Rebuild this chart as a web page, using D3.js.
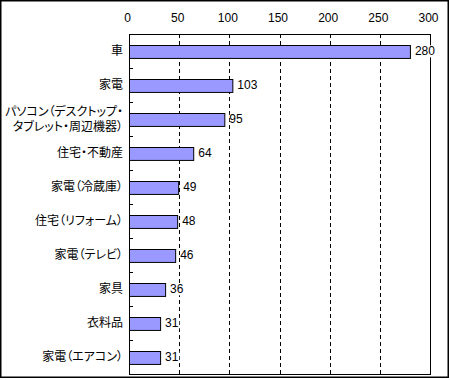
<!DOCTYPE html>
<html><head><meta charset="utf-8">
<script src="https://cdn.jsdelivr.net/npm/d3@7"></script>
<style>
html,body{margin:0;padding:0;background:#fff;}
text{font-family:"Noto Sans CJK JP","Noto Sans",sans-serif;font-size:12px;fill:#000;font-feature-settings:"palt";}
.num{font-family:"Liberation Sans",Arial,sans-serif;font-size:12px;}
</style></head>
<body>
<svg id="c" width="450" height="380"></svg>
<script>
const categories = ["車","家電","パソコン（デスクトップ・\nタブレット・周辺機器）","住宅・不動産","家電（冷蔵庫）","住宅（リフォーム）","家電（テレビ）","家具","衣料品","家電（エアコン）"];
const values = [280,103,95,64,49,48,46,36,31,31];
const xTicks = [0,50,100,150,200,250,300];

const svg = d3.select("#c");
const L=129, R=430, T=34, B=374;
const x = d3.scaleLinear().domain([0,300]).range([L,R]);
const y = d3.scaleBand().domain(categories).range([T,B]).paddingInner(0.62).paddingOuter(0.31);

// outer border
svg.append("rect").attr("x",0.75).attr("y",0.75).attr("width",447.5).attr("height",376.5)
  .attr("fill","none").attr("stroke","#000").attr("stroke-width",1.5);

// gridlines
svg.append("g").selectAll("line").data(xTicks.filter(t=>t>0&&t<300)).join("line")
  .attr("x1",d=>Math.round(x(d))+0.5).attr("x2",d=>Math.round(x(d))+0.5)
  .attr("y1",T).attr("y2",B).attr("stroke","#000").attr("stroke-dasharray","4,3");

// frame
svg.append("rect").attr("x",L+0.5).attr("y",T+0.5).attr("width",R-L).attr("height",B-T)
  .attr("fill","none").attr("stroke","#000");

// top axis labels
const ax = d3.axisTop(x).tickValues(xTicks).tickSize(0).tickPadding(0);
const gAx = svg.append("g").attr("transform",`translate(0,${T-12})`).call(ax);
gAx.select(".domain").remove();
gAx.attr("font-family",null).attr("font-size",null);
gAx.selectAll("text").attr("class","num").attr("dx",-2);

// y ticks between categories
const step = y.step();
const bounds = d3.range(1,categories.length).map(i=>T+i*step);
svg.append("g").selectAll("line").data(bounds).join("line")
  .attr("x1",L).attr("x2",L+4).attr("y1",d=>Math.round(d)+0.5).attr("y2",d=>Math.round(d)+0.5)
  .attr("stroke","#000");

// bars
svg.append("g").selectAll("rect").data(values).join("rect")
  .attr("x",x(0)+0.5).attr("y",(d,i)=>Math.round(y(categories[i]))+0.5)
  .attr("width",d=>x(d)-x(0)).attr("height",y.bandwidth())
  .attr("fill","#9999FF").attr("stroke","#000");

// value labels
const vl = svg.append("g").selectAll("g").data(values).join("g");
vl.append("rect").attr("fill","#fff");
vl.append("text").attr("class","num")
  .attr("x",d=>x(d)+5).attr("y",(d,i)=>y(categories[i])+y.bandwidth()/2)
  .attr("dy","0.36em").text(d=>d);
vl.each(function(){
  const t=d3.select(this).select("text").node().getBBox();
  d3.select(this).select("rect").attr("x",t.x+0.5).attr("y",t.y+1).attr("width",t.width).attr("height",t.height-2);
});

// category labels
const cl = svg.append("g").selectAll("text").data(categories).join("text")
  .attr("text-anchor","end").attr("x",123)
  .attr("y",d=>y(d)+y.bandwidth()/2);
cl.each(function(d){
  const lines=d.split("\n");
  const n=lines.length;
  d3.select(this).selectAll("tspan").data(lines).join("tspan")
    .attr("x",123).attr("dy",(l,i)=>i===0?`${0.36-(n-1)*0.65}em`:"1.3em").text(l=>l);
});
</script>
</body></html>
